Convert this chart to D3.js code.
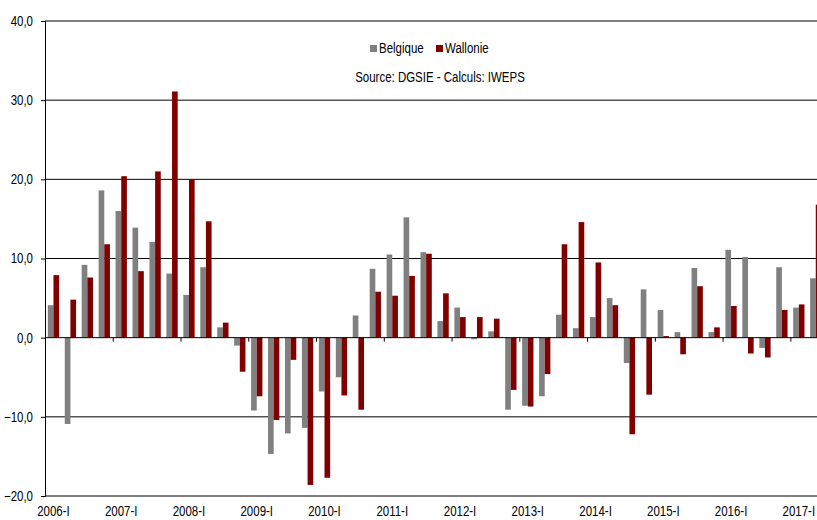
<!DOCTYPE html>
<html>
<head>
<meta charset="utf-8">
<script src="https://cdn.jsdelivr.net/npm/d3@7"></script>
<style>
  body { margin: 0; background: #fff; }
  svg text { font-family: "Liberation Sans", Arial, sans-serif; fill: #000; }
</style>
</head>
<body>
<div id="chart"></div>
<script>
// quarters 2006-I .. 2017-II
var quarters = [
    '2006-I','2006-II','2006-III','2006-IV',
    '2007-I','2007-II','2007-III','2007-IV',
    '2008-I','2008-II','2008-III','2008-IV',
    '2009-I','2009-II','2009-III','2009-IV',
    '2010-I','2010-II','2010-III','2010-IV',
    '2011-I','2011-II','2011-III','2011-IV',
    '2012-I','2012-II','2012-III','2012-IV',
    '2013-I','2013-II','2013-III','2013-IV',
    '2014-I','2014-II','2014-III','2014-IV',
    '2015-I','2015-II','2015-III','2015-IV',
    '2016-I','2016-II','2016-III','2016-IV',
    '2017-I','2017-II'
];

var belgique = [
    4.1, -10.9, 9.2, 18.6,
    16.0, 13.9, 12.1, 8.1,
    5.4, 8.9, 1.3, -1.0,
    -9.2, -14.7, -12.1, -11.4,
    -6.8, -5.0, 2.8, 8.7,
    10.5, 15.2, 10.8, 2.1,
    3.8, -0.2, 0.8, -9.1,
    -8.6, -7.4, 2.9, 1.2,
    2.6, 5.0, -3.2, 6.1,
    3.5, 0.7, 8.8, 0.7,
    11.1, 10.2, -1.3, 8.9,
    3.8, 7.5
];

var wallonie = [
    7.9, 4.8, 7.6, 11.8,
    20.4, 8.4, 21.0, 31.1,
    20.0, 14.7, 1.9, -4.3,
    -7.4, -10.4, -2.8, -18.6,
    -17.7, -7.3, -9.1, 5.8,
    5.3, 7.8, 10.6, 5.6,
    2.6, 2.6, 2.4, -6.6,
    -8.7, -4.6, 11.8, 14.6,
    9.5, 4.1, -12.2, -7.2,
    0.2, -2.1, 6.5, 1.3,
    4.0, -2.0, -2.5, 3.5,
    4.2, 16.8
];

var seriesNames = ['Belgique', 'Wallonie'];
var seriesColors = ['#808080', '#800000'];
var yTicks = [-20, -10, 0, 10, 20, 30, 40];

var width = 817, height = 520;
var plotLeft = 45, plotTop = 21, plotBottom = 496;
var step = 16.94;
var squeeze = 0.82; // the original text is horizontally narrow

var svg = d3.select('#chart').append('svg')
    .attr('width', width)
    .attr('height', height);

// squeeze text horizontally around its own anchor
function narrow(sel) {
    sel.each(function() {
        var t = d3.select(this);
        var x0 = +t.attr('x') || 0;
        t.attr('x', x0 / squeeze)
            .attr('transform', 'scale(' + squeeze + ',1)');
    });
}

var x = d3.scaleBand()
    .domain(quarters)
    .range([plotLeft, plotLeft + quarters.length * step])
    .padding(0);

var xs = d3.scaleBand()
    .domain(seriesNames)
    .range([0, x.bandwidth()])
    .paddingInner(0)
    .paddingOuter(0.5);

var y = d3.scaleLinear()
    .domain([-20, 40])
    .range([plotBottom, plotTop]);

// horizontal gridlines
svg.append('g')
    .selectAll('line')
    .data(yTicks.filter(function(d) { return d !== 0; }))
    .enter()
    .append('line')
    .attr('x1', plotLeft)
    .attr('x2', width)
    .attr('y1', function(d) { return y(d); })
    .attr('y2', function(d) { return y(d); })
    .attr('stroke', '#000')
    .attr('stroke-width', 1);

// bars
var rows = quarters.map(function(q, i) {
    return { q: q, values: [belgique[i], wallonie[i]] };
});

var group = svg.append('g')
    .selectAll('g')
    .data(rows)
    .enter()
    .append('g')
    .attr('transform', function(d) { return 'translate(' + x(d.q) + ',0)'; });

group.selectAll('rect')
    .data(function(d) {
        return d.values.map(function(v, j) { return { name: seriesNames[j], value: v, color: seriesColors[j] }; });
    })
    .enter()
    .append('rect')
    .attr('x', function(d) { return xs(d.name); })
    .attr('width', xs.bandwidth())
    .attr('y', function(d) { return y(Math.max(0, d.value)); })
    .attr('height', function(d) { return Math.abs(y(d.value) - y(0)); })
    .attr('fill', function(d) { return d.color; });

// y axis
var yAxis = svg.append('g')
    .attr('transform', 'translate(' + plotLeft + ',0)')
    .call(d3.axisLeft(y)
        .tickValues(yTicks)
        .tickSize(4)
        .tickPadding(8)
        .tickFormat(function(d) { return d3.format('.1f')(d).replace('.', ','); }));
yAxis.select('.domain').attr('stroke', '#000');
yAxis.selectAll('.tick line').attr('stroke', '#000');
yAxis.selectAll('text').attr('font-size', 14).attr('font-family', null).call(narrow);

// zero line with year ticks
var tickQuarters = quarters.filter(function(q, i) { return i > 0 && i % 4 === 0; });
var zeroAxis = svg.append('g')
    .attr('transform', 'translate(0,' + y(0) + ')')
    .call(d3.axisBottom(x)
        .tickValues(tickQuarters)
        .tickSize(4)
        .tickSizeOuter(0)
        .tickFormat(''));
zeroAxis.select('.domain').attr('stroke', '#000').attr('d', 'M' + plotLeft + ',0H' + width);
zeroAxis.selectAll('.tick').attr('transform', function(d) { return 'translate(' + (x(d) + 0.5) + ',0)'; });
zeroAxis.selectAll('.tick line').attr('stroke', '#000');

// year labels along the bottom
var labelAxis = svg.append('g')
    .attr('transform', 'translate(0,' + plotBottom + ')')
    .call(d3.axisBottom(x)
        .tickValues(quarters.filter(function(q, i) { return i % 4 === 0; }))
        .tickSize(0)
        .tickPadding(10));
labelAxis.select('.domain').remove();
labelAxis.selectAll('text').attr('font-size', 14).attr('font-family', null).call(narrow);

// legend
var legend = svg.append('g');
var legendX = [370, 436];
seriesNames.forEach(function(name, i) {
    legend.append('rect')
        .attr('x', legendX[i])
        .attr('y', 45)
        .attr('width', 7)
        .attr('height', 7)
        .attr('fill', seriesColors[i]);
    legend.append('text')
        .attr('x', legendX[i] + 9)
        .attr('y', 53)
        .attr('font-size', 14)
        .text(name)
        .call(narrow);
});

svg.append('text')
    .attr('x', 440)
    .attr('y', 82)
    .attr('text-anchor', 'middle')
    .attr('font-size', 14)
    .text('Source: DGSIE - Calculs: IWEPS')
    .call(narrow);
</script>
</body>
</html>
